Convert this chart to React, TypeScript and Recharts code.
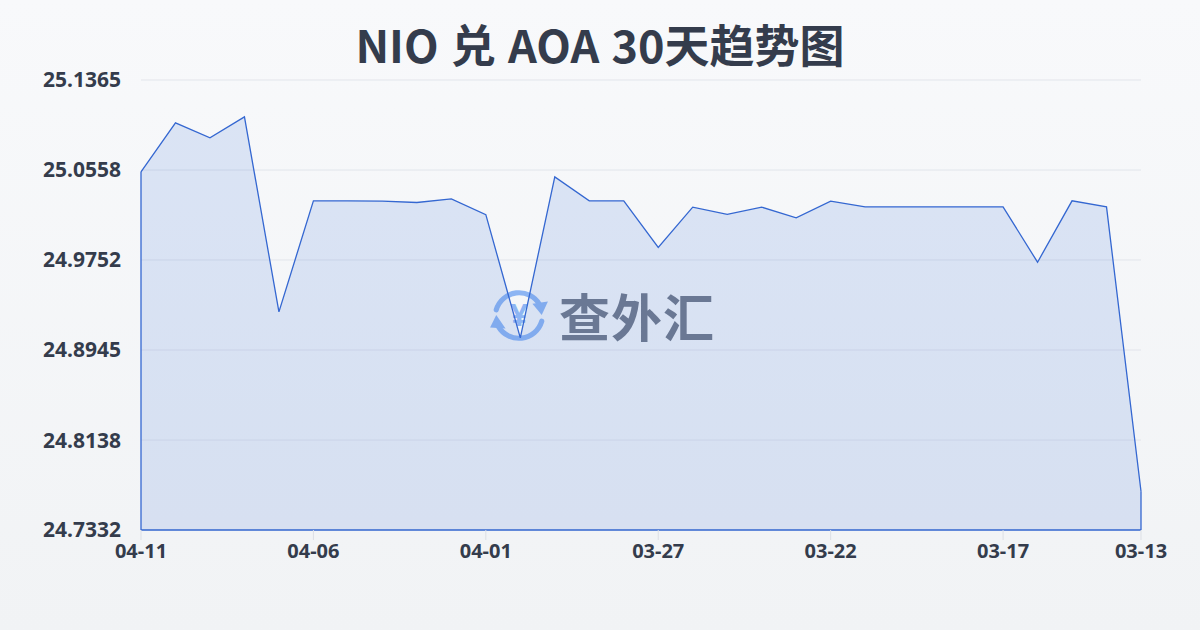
import React from "react";
import {
  AreaChart,
  Area,
  XAxis,
  YAxis,
  CartesianGrid,
  ReferenceLine,
} from "recharts";

const dates: string[] = [
  "04-11", "04-10", "04-09", "04-08", "04-07", "04-06", "04-05", "04-04", "04-03", "04-02",
  "04-01", "03-31", "03-30", "03-29", "03-28", "03-27", "03-26", "03-25", "03-24", "03-23",
  "03-22", "03-21", "03-20", "03-19", "03-18", "03-17", "03-16", "03-15", "03-14", "03-13",
];

const rates: number[] = [
  25.0542, 25.0981, 25.0847, 25.1035, 24.9287, 25.0282, 25.0282, 25.028, 25.0267, 25.03,
  25.0158, 24.9054, 25.0497, 25.0282, 25.0282, 24.9864, 25.0225, 25.016, 25.0225, 25.013,
  25.028, 25.0228, 25.0228, 25.0228, 25.0228, 25.0228, 24.9732, 25.0282, 25.0228, 24.7679,
];

const yTicks: number[] = [24.7332, 24.8138, 24.8945, 24.9752, 25.0558, 25.1365];
const xTickIdx: number[] = [0, 5, 10, 15, 20, 25, 29];

const title = "NIO 兑 AOA 30天趋势图";

const data = dates.map((d, i) => ({ idx: i, date: d, value: rates[i] }));

const BLUE = "#3467d1";
const TEXT = "#343c4c";
const FONT = '"Noto Sans", "Noto Sans CJK SC", sans-serif';

const yMin = yTicks[0];
const yMax = yTicks[yTicks.length - 1];
const lastIdx = dates.length - 1;

function Watermark() {
  return (
    <div
      style={{
        position: "absolute",
        left: 488,
        top: 284,
        display: "flex",
        alignItems: "center",
        pointerEvents: "none",
      }}
    >
      <svg width="62" height="62" viewBox="0 0 60 60">
        <g fill="none" stroke="#8db5f3" strokeWidth="5" strokeLinecap="round">
          <path d="M 8 25 A 23 23 0 0 1 50 20" />
          <path d="M 52 36 A 23 23 0 0 1 10 41" />
        </g>
        <polygon points="43,19 58,17 52,30" fill="#8db5f3" />
        <polygon points="2,42 17,43 8,30" fill="#8db5f3" />
        <text
          x="30"
          y="41"
          textAnchor="middle"
          fontSize="30"
          fontWeight="bold"
          fill="#8db5f3"
          fontFamily={FONT}
        >
          ¥
        </text>
      </svg>
      <div
        style={{
          marginLeft: 9,
          fontSize: 51,
          fontWeight: 700,
          color: "#737a89",
          fontFamily: '"Noto Sans CJK SC", sans-serif',
          lineHeight: 1,
          letterSpacing: 1,
        }}
      >
        查外汇
      </div>
    </div>
  );
}

export default function App() {
  return (
    <div
      style={{
        position: "absolute",
        left: 0,
        top: 0,
        width: 1200,
        height: 630,
        overflow: "hidden",
        background: "linear-gradient(180deg, #f8f9fb 0%, #f1f3f5 100%)",
        fontFamily: FONT,
      }}
    >
      <div
        style={{
          position: "absolute",
          left: 0,
          top: 16,
          width: 1200,
          textAlign: "center",
          fontSize: 45,
          fontWeight: 700,
          wordSpacing: 2,
          color: TEXT,
          fontFamily: '"Noto Sans CJK SC", "Noto Sans", sans-serif',
          lineHeight: "56px",
        }}
      >
        {title}
      </div>
      <Watermark />
      <div style={{ position: "absolute", left: 0, top: 0 }}>
        <AreaChart
          width={1200}
          height={630}
          data={data}
          margin={{ top: 80, right: 59, bottom: 70, left: 0 }}
        >
          <CartesianGrid vertical={false} stroke="#e2e5eb" strokeWidth={1} />
          <XAxis
            dataKey="idx"
            type="number"
            domain={[0, lastIdx]}
            ticks={xTickIdx}
            tickFormatter={(v: number) => dates[v]}
            height={30}
            axisLine={{ stroke: BLUE, strokeWidth: 1.3 }}
            tickLine={{ stroke: "#dcdfe5" }}
            tickSize={10}
            tickMargin={4}
            tick={{ fill: TEXT, fontSize: 20, fontWeight: 700, fontFamily: FONT }}
            interval={0}
          />
          <YAxis
            type="number"
            domain={[yMin, yMax]}
            ticks={yTicks}
            tickFormatter={(v: number) => v.toFixed(4)}
            width={141}
            axisLine={false}
            tickLine={false}
            tickMargin={14}
            tick={{ fill: TEXT, fontSize: 21, fontWeight: 700, fontFamily: FONT }}
            interval={0}
            allowDataOverflow
          />
          <Area
            type="linear"
            dataKey="value"
            stroke={BLUE}
            strokeWidth={1.3}
            fill="#3b6fd6"
            fillOpacity={0.15}
            baseValue={yMin}
            isAnimationActive={false}
            dot={false}
            activeDot={false}
          />
          <ReferenceLine
            segment={[
              { x: 0, y: yMin },
              { x: 0, y: rates[0] },
            ]}
            stroke={BLUE}
            strokeWidth={1.3}
          />
          <ReferenceLine
            segment={[
              { x: lastIdx, y: yMin },
              { x: lastIdx, y: rates[lastIdx] },
            ]}
            stroke={BLUE}
            strokeWidth={1.3}
          />
        </AreaChart>
      </div>
    </div>
  );
}
